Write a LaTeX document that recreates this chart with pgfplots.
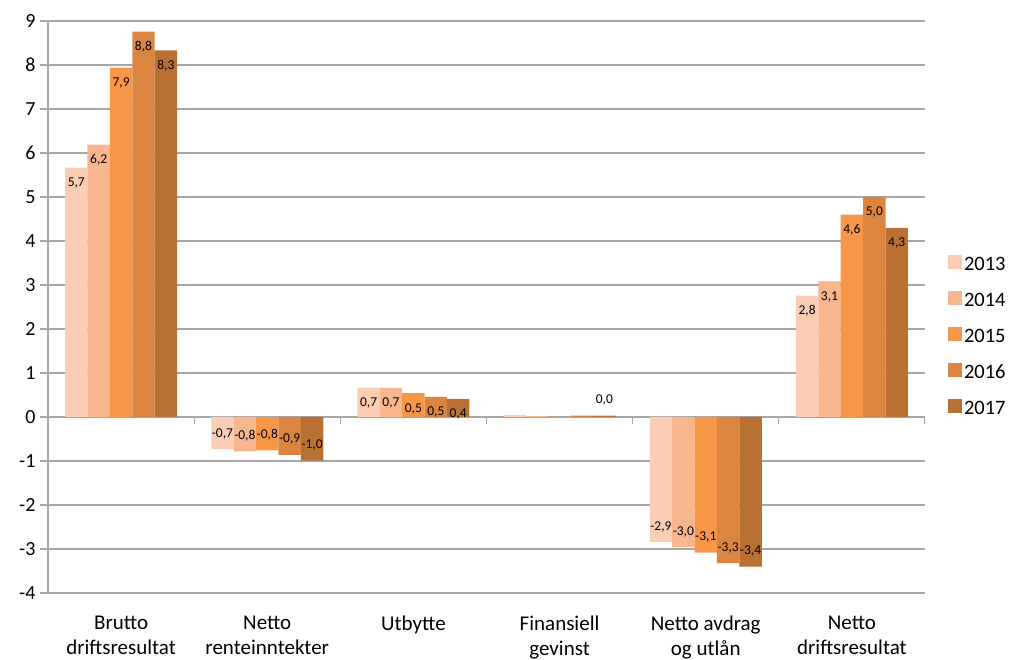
\documentclass[border=0pt]{standalone}
\usepackage{fontspec}
\setmainfont{Carlito}
\usepackage{pgfplots}
\usepackage{pgfplotstable}
\pgfplotsset{compat=1.18}

\definecolor{c13}{RGB}{251,205,180}
\definecolor{c14}{RGB}{248,182,142}
\definecolor{c15}{RGB}{247,150,70}
\definecolor{c16}{RGB}{220,133,64}
\definecolor{c17}{RGB}{184,113,51}
\definecolor{gridgray}{RGB}{166,166,166}

% categories: 0 Brutto driftsresultat, 1 Netto renteinntekter, 2 Utbytte,
% 3 Finansiell gevinst, 4 Netto avdrag og utlån, 5 Netto driftsresultat
\pgfplotstableread{
x y lab
0 5.67 5,7
1 -0.73 -0,7
2 0.67 0,7
3 0.05 {}
4 -2.84 -2,9
5 2.76 2,8
}\tabA
\pgfplotstableread{
x y lab
0 6.19 6,2
1 -0.78 -0,8
2 0.66 0,7
3 0.02 {}
4 -2.96 -3,0
5 3.08 3,1
}\tabB
\pgfplotstableread{
x y lab
0 7.94 7,9
1 -0.76 -0,8
2 0.54 0,5
3 -0.02 {}
4 -3.08 -3,1
5 4.60 4,6
}\tabC
\pgfplotstableread{
x y lab
0 8.76 8,8
1 -0.86 -0,9
2 0.46 0,5
3 0.03 {}
4 -3.32 -3,3
5 5.00 5,0
}\tabD
\pgfplotstableread{
x y lab
0 8.33 8,3
1 -0.99 -1,0
2 0.41 0,4
3 0.03 0,0
4 -3.40 -3,4
5 4.30 4,3
}\tabE

\begin{document}
\begin{tikzpicture}
\useasboundingbox (-48pt,-66pt) rectangle (966pt,593pt);
\begin{axis}[
    scale only axis,
    width=877pt, height=572pt,
    ybar=0pt, bar width=22.4pt,
    xmin=-0.5, xmax=5.5,
    ymin=-4, ymax=9,
    ytick={-4,...,9},
    xtick={0,...,5},
    xticklabels={{Brutto\\driftsresultat},{Netto\\renteinntekter},Utbytte,
        {Finansiell\\gevinst},{Netto avdrag\\og utlån},{Netto\\driftsresultat}},
    axis y line*=left, axis x line*=bottom,
    axis line style={gridgray, line width=1.2pt},
    ymajorgrids,
    grid style={gridgray, line width=1.2pt},
    tick align=outside,
    major tick length=8pt,
    xtick style={draw=none},
    ytick style={gridgray, line width=1.2pt},
    /pgf/number format/assume math mode=true,
    yticklabel style={font=\fontsize{20}{22}\selectfont, xshift=-1pt},
    xticklabel style={font=\fontsize{21}{25}\selectfont, align=center, yshift=-11pt},
    point meta=explicit symbolic,
    nodes near coords,
    visualization depends on={rawy \as \rawy},
    nodes near coords style={font=\fontsize{13.5}{15}\selectfont, black,
        inner ysep=10pt, inner xsep=1pt,
        anchor={\ifdim\rawy pt<0.1pt south\else north\fi}},
    legend style={draw=none, fill=none, at={(1.026,0.4485)}, anchor=west,
        inner sep=0pt, font=\fontsize{20.5}{20.5}\selectfont, row sep=17pt},
    legend cell align=left,
    legend image code/.code={\draw[#1,draw=none] (0pt,-4.5pt) rectangle (14pt,9.5pt);},
]
\addplot[fill=c13, draw=none] table[x=x, y=y, meta=lab] {\tabA};
\addlegendentry{2013}
\addplot[fill=c14, draw=none] table[x=x, y=y, meta=lab] {\tabB};
\addlegendentry{2014}
\addplot[fill=c15, draw=none] table[x=x, y=y, meta=lab] {\tabC};
\addlegendentry{2015}
\addplot[fill=c16, draw=none] table[x=x, y=y, meta=lab] {\tabD};
\addlegendentry{2016}
\addplot[fill=c17, draw=none] table[x=x, y=y, meta=lab] {\tabE};
\addlegendentry{2017}
\pgfplotsinvokeforeach{0.5,1.5,2.5,3.5,4.5,5.5}{
  \draw[gridgray, line width=1.2pt] (axis cs:#1,0) -- ++(0pt,-7pt);
}
\end{axis}
\end{tikzpicture}
\end{document}
